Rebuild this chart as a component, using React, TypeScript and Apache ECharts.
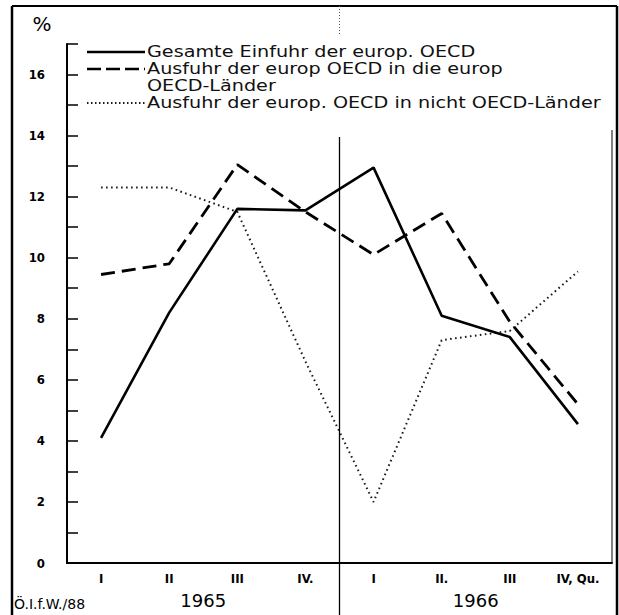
import React, { useEffect, useRef } from "react";
import * as echarts from "echarts";

const quarters = ["I", "II", "III", "IV.", "I", "II.", "III", "IV, Qu."];
const years = ["1965", "1966"];
const gesamteEinfuhr = [4.1, 8.2, 11.6, 11.55, 12.95, 8.1, 7.4, 4.55];
const ausfuhrOECD = [9.45, 9.8, 13.05, 11.5, 10.1, 11.45, 7.9, 5.2];
const ausfuhrNichtOECD = [12.3, 12.3, 11.5, 6.6, 2.0, 7.3, 7.6, 9.55];
const seriesNames = [
  "Gesamte Einfuhr der europ. OECD",
  "Ausfuhr der europ OECD in die europ\nOECD-Länder",
  "Ausfuhr der europ. OECD in nicht OECD-Länder",
];
const legendRows = [
  "Gesamte Einfuhr der europ. OECD",
  "Ausfuhr der europ OECD in die europ",
  "OECD-Länder",
  "Ausfuhr der europ. OECD in nicht OECD-Länder",
];
const yTicks = [0, 2, 4, 6, 8, 10, 12, 14, 16];

const W = 619;
const H = 615;
const FONT = "'DejaVu Sans', sans-serif";
const COND = "'DejaVu Sans Condensed', 'Liberation Sans Narrow', 'DejaVu Sans', sans-serif";

export default function App() {
  const ref = useRef<HTMLDivElement>(null);
  useEffect(() => {
    document.body.style.margin = "0";
    if (!ref.current) return;
    const chart = echarts.init(ref.current, undefined, { renderer: "svg" });
    const gridLeft = 67;
    const gridRight = 612;
    const gridTop = 44;
    const gridBottom = 563;
    const midX = (gridLeft + gridRight) / 2;
    const legendX0 = 87;
    const legendX1 = 145;
    const textX = 147;
    const rowY = [52, 69, 86, 103];
    const legendText = (i: number) => ({
      type: "text",
      x: textX,
      y: rowY[i],
      scaleX: 1.28,
      style: { x: 0, y: 0, text: legendRows[i], fill: "#111", font: `15px ${FONT}`, textVerticalAlign: "middle" },
    });
    chart.setOption({
      animation: false,
      backgroundColor: "#fff",
      grid: { left: gridLeft, right: W - gridRight, top: gridTop, bottom: H - gridBottom },
      xAxis: [
        {
          type: "category",
          data: quarters,
          boundaryGap: true,
          axisLine: { lineStyle: { color: "#000", width: 2 } },
          axisTick: { inside: true, length: 10, alignWithLabel: false, lineStyle: { color: "#000", width: 1.5 } },
          axisLabel: { interval: 0, margin: 9, color: "#000", fontSize: 13, fontWeight: "bold", fontFamily: COND },
          splitLine: { show: false },
        },
        {
          type: "category",
          data: years,
          position: "bottom",
          boundaryGap: true,
          axisLine: { show: false },
          axisTick: { show: false },
          axisLabel: { margin: 28, color: "#000", fontSize: 18, fontFamily: FONT },
          splitLine: { show: false },
        },
      ],
      yAxis: {
        type: "value",
        min: 0,
        max: 17,
        interval: 1,
        axisLine: { show: true, lineStyle: { color: "#000", width: 2 } },
        axisTick: { show: true, inside: true, length: 11, lineStyle: { color: "#000", width: 1.5 } },
        axisLabel: {
          margin: 22,
          color: "#000",
          fontSize: 13,
          fontWeight: "bold",
          fontFamily: COND,
          formatter: (v: number) => (yTicks.indexOf(v) >= 0 ? String(v) : ""),
        },
        splitLine: { show: false },
      },
      series: [
        {
          name: seriesNames[0],
          type: "line",
          data: gesamteEinfuhr,
          symbol: "none",
          lineStyle: { color: "#000", width: 2.6, type: "solid" },
          z: 3,
        },
        {
          name: seriesNames[1],
          type: "line",
          data: ausfuhrOECD,
          symbol: "none",
          lineStyle: { color: "#000", width: 2.8, type: [14, 7] },
          z: 3,
        },
        {
          name: seriesNames[2],
          type: "line",
          data: ausfuhrNichtOECD,
          symbol: "none",
          lineStyle: { color: "#1a1a1a", width: 2, type: [1.6, 3.4] },
          z: 2,
        },
      ],
      graphic: [
        // frame
        { type: "line", shape: { x1: 12, y1: 6, x2: 617, y2: 6 }, style: { stroke: "#000", lineWidth: 2 } },
        { type: "line", shape: { x1: 12, y1: 6, x2: 12, y2: H }, style: { stroke: "#000", lineWidth: 2.5 } },
        { type: "line", shape: { x1: 617, y1: 6, x2: 617, y2: H }, style: { stroke: "#000", lineWidth: 2.5 } },
        { type: "line", shape: { x1: gridRight, y1: 130, x2: gridRight, y2: gridBottom }, style: { stroke: "#000", lineWidth: 1 } },
        // year divider
        { type: "line", shape: { x1: midX, y1: 137, x2: midX, y2: H }, style: { stroke: "#000", lineWidth: 1.3 } },
        { type: "line", shape: { x1: midX, y1: 6, x2: midX, y2: 34 }, style: { stroke: "#555", lineWidth: 1, lineDash: [1, 2] } },
        // percent sign
        { type: "text", style: { x: 42, y: 24, text: "%", fill: "#000", font: `20px ${FONT}`, textAlign: "center", textVerticalAlign: "middle" } },
        // source note
        { type: "text", style: { x: 14, y: 604, text: "Ö.I.f.W./88", fill: "#000", font: `14px ${FONT}`, textVerticalAlign: "middle" } },
        // legend
        { type: "line", shape: { x1: legendX0, y1: rowY[0], x2: legendX1, y2: rowY[0] }, style: { stroke: "#000", lineWidth: 2.6 } },
        legendText(0),
        { type: "line", shape: { x1: legendX0, y1: rowY[1], x2: legendX1, y2: rowY[1] }, style: { stroke: "#000", lineWidth: 2.6, lineDash: [14, 5] } },
        legendText(1),
        legendText(2),
        { type: "line", shape: { x1: legendX0, y1: rowY[3], x2: legendX1, y2: rowY[3] }, style: { stroke: "#1a1a1a", lineWidth: 1.8, lineDash: [1.5, 2.5] } },
        legendText(3),
      ],
    });
    return () => chart.dispose();
  }, []);
  return <div ref={ref} style={{ width: W, height: H }} />;
}
